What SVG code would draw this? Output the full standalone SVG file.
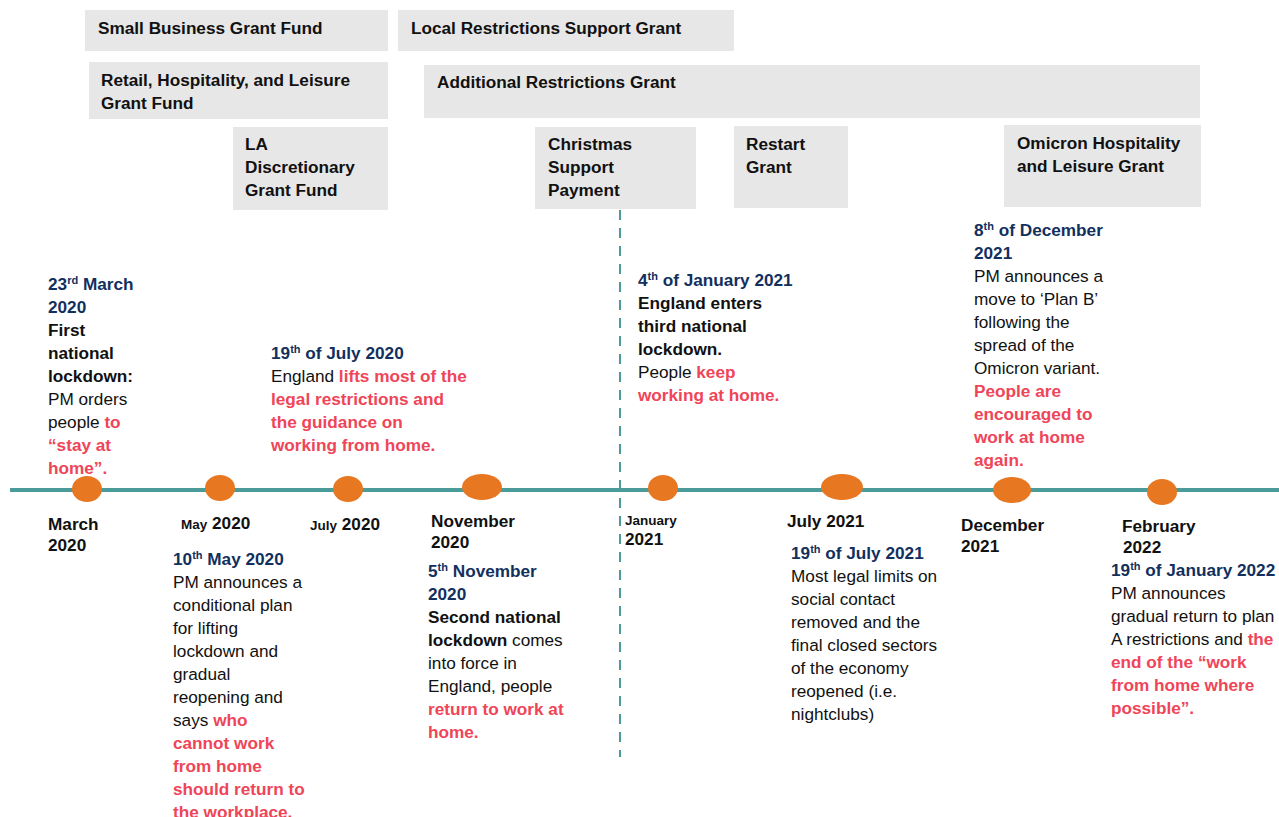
<svg xmlns="http://www.w3.org/2000/svg" width="1279" height="817" viewBox="0 0 1279 817">
<style>
text{font-family:"Liberation Sans",Arial,sans-serif;font-size:17.2px;fill:#111}
.box{fill:#E7E7E7}
.bt{font-weight:bold}
.b{font-weight:bold}
.d{font-weight:bold;fill:#12305E}
.r{font-weight:bold;fill:#EF4558}
.sm{font-size:13.5px}
.sup{font-size:11px}
.dot{fill:#E87722}
</style>
<rect width="1279" height="817" fill="#fff"/>

<g id="grants">
<g id="small-business"><rect class="box" x="85" y="10" width="303" height="41"/><text class="bt" x="98" y="34">Small Business Grant Fund</text></g>
<g id="local-restrictions"><rect class="box" x="398" y="10" width="336" height="41"/><text class="bt" x="411" y="34">Local Restrictions Support Grant</text></g>
<g id="retail"><rect class="box" x="89" y="62" width="299" height="57"/><text class="bt" x="101" y="86">Retail, Hospitality, and Leisure</text><text class="bt" x="101" y="109">Grant Fund</text></g>
<g id="additional"><rect class="box" x="424" y="65" width="776" height="53"/><text class="bt" x="437" y="88">Additional Restrictions Grant</text></g>
<g id="la-discretionary"><rect class="box" x="233" y="127" width="155" height="83"/><text class="bt" x="245" y="150">LA</text><text class="bt" x="245" y="173">Discretionary</text><text class="bt" x="245" y="196">Grant Fund</text></g>
<g id="christmas"><rect class="box" x="535" y="127" width="161" height="82"/><text class="bt" x="548" y="150">Christmas</text><text class="bt" x="548" y="173">Support</text><text class="bt" x="548" y="196">Payment</text></g>
<g id="restart"><rect class="box" x="734" y="126" width="114" height="82"/><text class="bt" x="746" y="150">Restart</text><text class="bt" x="746" y="173">Grant</text></g>
<g id="omicron"><rect class="box" x="1004" y="125" width="197" height="82"/><text class="bt" x="1017" y="149">Omicron Hospitality</text><text class="bt" x="1017" y="172">and Leisure Grant</text></g>
</g>

<g id="connectors">
<line x1="10" y1="490" x2="1279" y2="490" stroke="#4A9B9A" stroke-width="4"/>
<line x1="620" y1="210" x2="620" y2="757" stroke="#4A9B9A" stroke-width="2" stroke-dasharray="10 8"/>
</g>

<g id="milestones">
<g id="m-mar2020"><ellipse class="dot" cx="87" cy="489" rx="15" ry="13"/><text class="b" x="48" y="530">March</text><text class="b" x="48" y="551">2020</text></g>
<g id="m-may2020"><ellipse class="dot" cx="220" cy="488" rx="15" ry="13"/><text class="b" x="181" y="529"><tspan class="sm">May</tspan> 2020</text></g>
<g id="m-jul2020"><ellipse class="dot" cx="348" cy="489" rx="15" ry="13"/><text class="b" x="310" y="530"><tspan class="sm">July</tspan> 2020</text></g>
<g id="m-nov2020"><ellipse class="dot" cx="482" cy="487" rx="20" ry="13"/><text class="b" x="431" y="527">November</text><text class="b" x="431" y="548">2020</text></g>
<g id="m-jan2021"><ellipse class="dot" cx="663" cy="488" rx="15" ry="13"/><text class="b sm" x="625" y="525">January</text><text class="b" x="625" y="545">2021</text></g>
<g id="m-jul2021"><ellipse class="dot" cx="842" cy="487" rx="21" ry="13"/><text class="b" x="787" y="527">July 2021</text></g>
<g id="m-dec2021"><ellipse class="dot" cx="1012" cy="490" rx="19" ry="13"/><text class="b" x="961" y="531">December</text><text class="b" x="961" y="552">2021</text></g>
<g id="m-feb2022"><ellipse class="dot" cx="1162" cy="492" rx="15" ry="13"/><text class="b" x="1122" y="532">February</text><text class="b" x="1123" y="553">2022</text></g>
</g>

<g id="e-23mar2020">
<text class="d" x="48" y="290">23<tspan class="sup" dy="-6">rd</tspan><tspan dy="6"> March</tspan></text>
<text class="d" x="48" y="313">2020</text>
<text class="b" x="48" y="336">First</text>
<text class="b" x="48" y="359">national</text>
<text class="b" x="48" y="382">lockdown:</text>
<text x="48" y="405">PM orders</text>
<text x="48" y="428">people <tspan class="r">to</tspan></text>
<text class="r" x="48" y="451">“stay at</text>
<text class="r" x="48" y="474">home”.</text>
</g>

<g id="e-19jul2020">
<text class="d" x="271" y="359">19<tspan class="sup" dy="-6">th</tspan><tspan dy="6"> of July 2020</tspan></text>
<text x="271" y="382">England <tspan class="r">lifts most of the</tspan></text>
<text class="r" x="271" y="405">legal restrictions and</text>
<text class="r" x="271" y="428">the guidance on</text>
<text class="r" x="271" y="451">working from home.</text>
</g>

<g id="e-10may2020">
<text class="d" x="173" y="565">10<tspan class="sup" dy="-6">th</tspan><tspan dy="6"> May 2020</tspan></text>
<text x="173" y="588">PM announces a</text>
<text x="173" y="611">conditional plan</text>
<text x="173" y="634">for lifting</text>
<text x="173" y="657">lockdown and</text>
<text x="173" y="680">gradual</text>
<text x="173" y="703">reopening and</text>
<text x="173" y="726">says <tspan class="r">who</tspan></text>
<text class="r" x="173" y="749">cannot work</text>
<text class="r" x="173" y="772">from home</text>
<text class="r" x="173" y="795">should return to</text>
<text class="r" x="173" y="818">the workplace.</text>
</g>

<g id="e-5nov2020">
<text class="d" x="428" y="577">5<tspan class="sup" dy="-6">th</tspan><tspan dy="6"> November</tspan></text>
<text class="d" x="428" y="600">2020</text>
<text class="b" x="428" y="623">Second national</text>
<text x="428" y="646"><tspan class="b">lockdown</tspan> comes</text>
<text x="428" y="669">into force in</text>
<text x="428" y="692">England, people</text>
<text class="r" x="428" y="715">return to work at</text>
<text class="r" x="428" y="738">home.</text>
</g>

<g id="e-4jan2021">
<text class="d" x="638" y="286">4<tspan class="sup" dy="-6">th</tspan><tspan dy="6"> of January 2021</tspan></text>
<text class="b" x="638" y="309">England enters</text>
<text class="b" x="638" y="332">third national</text>
<text class="b" x="638" y="355">lockdown.</text>
<text x="638" y="378">People <tspan class="r">keep</tspan></text>
<text class="r" x="638" y="401">working at home.</text>
</g>

<g id="e-19jul2021">
<text class="d" x="791" y="559">19<tspan class="sup" dy="-6">th</tspan><tspan dy="6"> of July 2021</tspan></text>
<text x="791" y="582">Most legal limits on</text>
<text x="791" y="605">social contact</text>
<text x="791" y="628">removed and the</text>
<text x="791" y="651">final closed sectors</text>
<text x="791" y="674">of the economy</text>
<text x="791" y="697">reopened (i.e.</text>
<text x="791" y="720">nightclubs)</text>
</g>

<g id="e-8dec2021">
<text class="d" x="974" y="236">8<tspan class="sup" dy="-6">th</tspan><tspan dy="6"> of December</tspan></text>
<text class="d" x="974" y="259">2021</text>
<text x="974" y="282">PM announces a</text>
<text x="974" y="305">move to ‘Plan B’</text>
<text x="974" y="328">following the</text>
<text x="974" y="351">spread of the</text>
<text x="974" y="374">Omicron variant.</text>
<text class="r" x="974" y="397">People are</text>
<text class="r" x="974" y="420">encouraged to</text>
<text class="r" x="974" y="443">work at home</text>
<text class="r" x="974" y="466">again.</text>
</g>

<g id="e-19jan2022">
<text class="d" x="1111" y="576">19<tspan class="sup" dy="-6">th</tspan><tspan dy="6"> of January 2022</tspan></text>
<text x="1111" y="599">PM announces</text>
<text x="1111" y="622">gradual return to plan</text>
<text x="1111" y="645">A restrictions and <tspan class="r">the</tspan></text>
<text class="r" x="1111" y="668">end of the “work</text>
<text class="r" x="1111" y="691">from home where</text>
<text class="r" x="1111" y="714">possible”.</text>
</g>
</svg>
